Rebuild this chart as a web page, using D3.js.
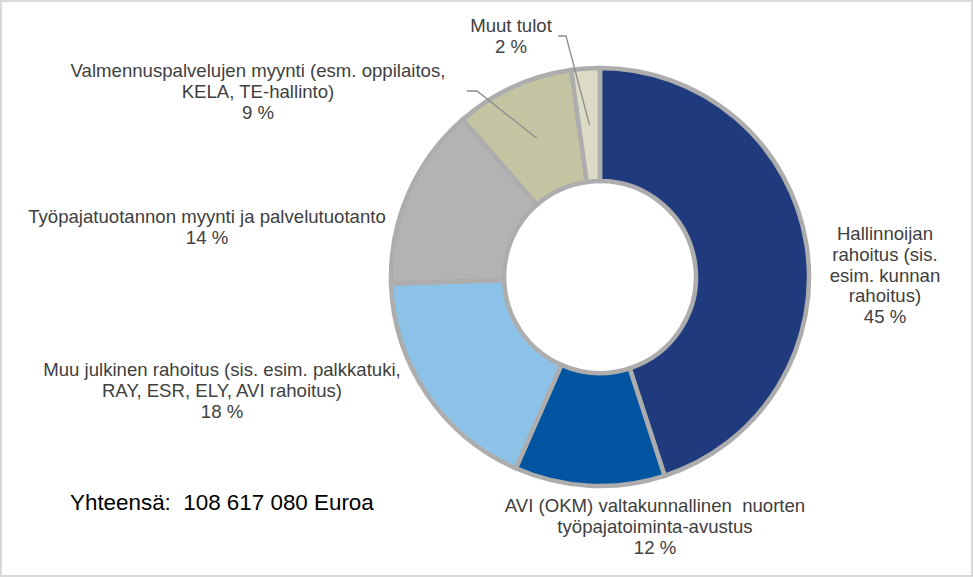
<!DOCTYPE html>
<html>
<head>
<meta charset="utf-8">
<script src="https://cdn.jsdelivr.net/npm/d3@7"></script>
<style>
  html, body { margin: 0; padding: 0; background: #fff; }
  svg { display: block; font-family: Arial, "Liberation Sans", sans-serif; }
</style>
</head>
<body>
<svg id="chart" width="973" height="577"></svg>
<script>
// ---- data ----
const categories = [
  "Hallinnoijan rahoitus (sis. esim. kunnan rahoitus)",
  "AVI (OKM) valtakunnallinen  nuorten työpajatoiminta-avustus",
  "Muu julkinen rahoitus (sis. esim. palkkatuki, RAY, ESR, ELY, AVI rahoitus)",
  "Työpajatuotannon myynti ja palvelutuotanto",
  "Valmennuspalvelujen myynti (esm. oppilaitos, KELA, TE-hallinto)",
  "Muut tulot"
];
const values = [45.0, 11.6, 17.9, 14.1, 9.2, 2.2];
const labelLines = [
  ["Hallinnoijan", "rahoitus (sis.", "esim. kunnan", "rahoitus)"],
  ["AVI (OKM) valtakunnallinen  nuorten", "työpajatoiminta-avustus"],
  ["Muu julkinen rahoitus (sis. esim. palkkatuki,", "RAY, ESR, ELY, AVI rahoitus)"],
  ["Työpajatuotannon myynti ja palvelutuotanto"],
  ["Valmennuspalvelujen myynti (esm. oppilaitos,", "KELA, TE-hallinto)"],
  ["Muut tulot"]
];
const totalText = "Yhteensä:  108 617 080 Euroa";

// ---- layout / style ----
const colors = ["#1F3A7D", "#0154A0", "#8CC2E7", "#B3B3B3", "#C4C4A2", "#DCDBC6"];
const labelPos = [   // x centre, first baseline
  [885, 240], [655, 512], [222, 376], [207, 223], [258, 77], [511, 32]
];
const leaderStart = [null, null, null, null, [[467, 91], [477, 91]], [[558, 36], [566, 36]]];
const cx = 600, cy = 277, rOuter = 209, rInner = 96;
const lineH = 20.8;

const svg = d3.select("#chart");
svg.append("rect").attr("x", 1).attr("y", 1).attr("width", 971).attr("height", 575)
  .attr("fill", "#fff").attr("stroke", "#D9D9D9").attr("stroke-width", 2);

const pie = d3.pie().sort(null).value(d => d);
const arcs = pie(values);
const arc = d3.arc().innerRadius(rInner).outerRadius(rOuter);

const g = svg.append("g").attr("transform", `translate(${cx},${cy})`);
g.selectAll("path.slice").data(arcs).enter().append("path")
  .attr("class", "slice")
  .attr("d", arc)
  .attr("fill", (d, i) => colors[i])
  .attr("stroke", "#ADADAD")
  .attr("stroke-width", 4.5)
  .attr("stroke-linejoin", "miter");

// leader lines
arcs.forEach((d, i) => {
  if (!leaderStart[i]) return;
  const c = arc.centroid(d);
  const pts = leaderStart[i].concat([[cx + c[0], cy + c[1]]]);
  svg.append("path")
    .attr("d", d3.line()(pts))
    .attr("fill", "none")
    .attr("stroke", "#8C8C8C")
    .attr("stroke-width", 1.3);
});

// labels
const fmt = v => Math.round(v) + " %";
arcs.forEach((d, i) => {
  const [x, y] = labelPos[i];
  const lines = labelLines[i].concat([fmt(values[i])]);
  const t = svg.append("text")
    .attr("text-anchor", "middle")
    .attr("fill", "#404040")
    .attr("font-size", 18.6)
    .style("white-space", "pre");
  lines.forEach((ln, k) => {
    t.append("tspan").attr("x", x).attr("y", y + k * lineH).text(ln);
  });
});

svg.append("text")
  .attr("x", 70).attr("y", 510)
  .attr("font-size", 22.4)
  .attr("fill", "#000")
  .style("white-space", "pre")
  .text(totalText);
</script>
</body>
</html>
